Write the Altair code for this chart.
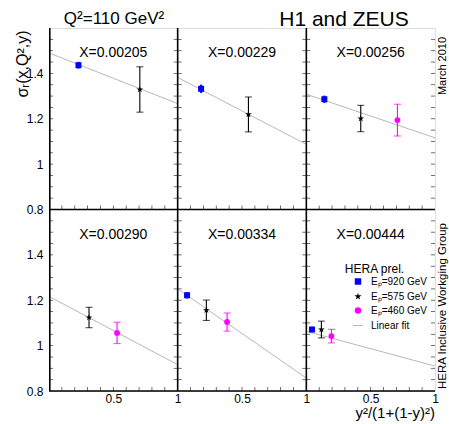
import altair as alt
import pandas as pd

# ---------------- data ----------------
panel_labels = ["X=0.00205", "X=0.00229", "X=0.00256",
                "X=0.00290", "X=0.00334", "X=0.00444"]

ep920_panel = [0, 1, 2, 4, 5]
ep920_x = [0.229, 0.182, 0.140, 0.073, 0.044]
ep920_y = [1.436, 1.332, 1.286, 1.222, 1.071]
ep920_err = [0.015, 0.018, 0.016, 0.014, 0.012]

ep575_panel = [0, 1, 2, 3, 4, 5]
ep575_x = [0.706, 0.550, 0.423, 0.311, 0.223, 0.117]
ep575_y = [1.329, 1.219, 1.201, 1.124, 1.156, 1.071]
ep575_err = [0.100, 0.077, 0.058, 0.045, 0.045, 0.037]

ep460_panel = [2, 3, 4, 5]
ep460_x = [0.708, 0.529, 0.384, 0.195]
ep460_y = [1.194, 1.056, 1.104, 1.042]
ep460_err = [0.070, 0.047, 0.040, 0.030]

fit_x = [0.0, 1.0]
fit_y_at0 = [1.490, 1.382, 1.308, 1.217, 1.250, 1.063]
fit_y_at1 = [1.267, 1.087, 1.116, 0.916, 0.857, 0.910]

x_ticks = [0.1, 0.2, 0.3, 0.4, 0.5, 0.6, 0.7, 0.8, 0.9]
y_ticks = [0.85, 0.9, 0.95, 1.0, 1.05, 1.1, 1.15, 1.2, 1.25, 1.3,
           1.35, 1.4, 1.45, 1.5, 1.55]
x_label_values = [0.5, 1.0, 1.5, 2.0, 2.5, 3.0]        # panel-column offset + 0.5 / 1
y_label_values = [0.0, 0.2, 0.4, 0.6, 0.8, 1.0, 1.2, 1.4]  # row offset + 0.8..1.4

legend_labels = ["E\u209a=920 GeV", "E\u209a=575 GeV", "E\u209a=460 GeV", "Linear fit"]

notes = {
    "q2": "Q\u00b2=110 GeV\u00b2",
    "ytitle": "\u03c3\u1d63(x,Q\u00b2,y)",
    "h1": "H1 and ZEUS",
    "march": "March 2010",
    "xtitle": "y\u00b2/(1+(1-y)\u00b2)",
    "group": "HERA Inclusive Workging Group",
    "prel": "HERA prel.",
}

STAR = ("M0,-1L0.2245,-0.309L0.951,-0.309L0.3633,0.118L0.5878,0.809L0,0.382"
        "L-0.5878,0.809L-0.3633,0.118L-0.951,-0.309L-0.2245,-0.309Z")

# ---------------- one long table ----------------
rows = []
for name, pl, xs_, ys_, es_ in [("920", ep920_panel, ep920_x, ep920_y, ep920_err),
                                ("575", ep575_panel, ep575_x, ep575_y, ep575_err),
                                ("460", ep460_panel, ep460_x, ep460_y, ep460_err)]:
    for p, x, y, e in zip(pl, xs_, ys_, es_):
        rows.append(dict(kind="pt", panel=p, series=name, x=x, y=y, lo=y - e, hi=y + e))
for p in range(6):
    rows.append(dict(kind="fit", panel=p, x=fit_x[0], y=fit_y_at0[p]))
    rows.append(dict(kind="fit", panel=p, x=fit_x[1], y=fit_y_at1[p]))
    rows.append(dict(kind="label", panel=p, x=0.5, y=1.6, text=panel_labels[p]))
    for t in x_ticks:
        rows.append(dict(kind="xtick", panel=p, x=t, y=0.8))
    for t in y_ticks:
        rows.append(dict(kind="ytick", panel=p, x=0.0, y=t))
        rows.append(dict(kind="ytick", panel=p, x=1.0, y=t))
for p in [1, 2]:
    rows.append(dict(kind="sep", panel=p, x=0.0, y=0.8))
for p in [3, 0]:
    rows.append(dict(kind="base", panel=p, x=0.0, y=0.8))
for k, txt in notes.items():
    rows.append(dict(kind=k, panel=5, text=txt))
for k, s in enumerate(["920", "575", "460", "fit"]):
    rows.append(dict(kind="leg", panel=5, series=s, text=legend_labels[k]))
df = pd.DataFrame(rows)
df["r"] = df["panel"] // 3
df["c"] = df["panel"] % 3

FONT = "Liberation Sans"
W, H = 386, 363

xs = alt.Scale(domain=[0, 3], nice=False, zero=False)
ys = alt.Scale(domain=[0, 1.6], nice=False, zero=False)

xaxis = alt.Axis(values=x_label_values, ticks=False, domain=False, grid=False, labelFlush=False,
                 labelOverlap=False, labelExpr="datum.value % 1 == 0 ? '1' : '0.5'",
                 labelFont=FONT, labelFontSize=12, labelPadding=2, labelColor="black", title=None)
yaxis = alt.Axis(values=y_label_values, ticks=False, domain=False, grid=False, labelFlush=False,
                 labelOverlap=False,
                 labelExpr="format(datum.value < 0.79 ? datum.value + 0.8 : datum.value, '.1~f')",
                 labelFont=FONT, labelFontSize=12, labelPadding=6, labelColor="black", title=None)

base = alt.Chart(df).transform_calculate(
    X="datum.c + datum.x",
    Y="datum.y - 0.8 * datum.r",
    Ylo="datum.lo - 0.8 * datum.r",
    Yhi="datum.hi - 0.8 * datum.r",
)
X = alt.X("X:Q", scale=xs, axis=xaxis)
Y = alt.Y("Y:Q", scale=ys, axis=yaxis)


def kind(k):
    return base.transform_filter(f"datum.kind == '{k}'")


def note(k, size, x, y, align="center", baseline="alphabetic", angle=0):
    return kind(k).mark_text(font=FONT, fontSize=size, align=align, baseline=baseline,
                             angle=angle, color="black").encode(
        x=alt.value(x), y=alt.value(y), text="text:N")


layers = []
# inside ticks
layers.append(kind("xtick").mark_tick(orient="vertical", size=4, thickness=0.8, yOffset=-2,
                                      color="black").encode(x=X, y=Y))
layers.append(kind("ytick").transform_filter("datum.x == 0").mark_tick(
    orient="horizontal", size=4, thickness=0.8, xOffset=2, color="black").encode(x=X, y=Y))
layers.append(kind("ytick").transform_filter("datum.x == 1").mark_tick(
    orient="horizontal", size=4, thickness=0.8, xOffset=-2, color="black").encode(x=X, y=Y))
# fit lines
layers.append(kind("fit").mark_line(color="#b8b8b8", strokeWidth=1).encode(
    x=X, y=Y, detail="panel:N"))
# error bars
layers.append(kind("pt").transform_filter("datum.series == '920'").mark_rule(
    strokeWidth=2.2, color="#0000ff").encode(
    x=X, y=alt.Y("Ylo:Q", scale=ys, axis=yaxis), y2="Yhi:Q"))
for s, col in [("575", "#000000"), ("460", "#ff00ff")]:
    sel = kind("pt").transform_filter(f"datum.series == '{s}'")
    layers.append(sel.mark_rule(strokeWidth=1.1, color=col).encode(
        x=X, y=alt.Y("Ylo:Q", scale=ys, axis=yaxis), y2="Yhi:Q"))
    layers.append(sel.mark_tick(orient="horizontal", size=7, thickness=1.1, color=col).encode(
        x=X, y=alt.Y("Ylo:Q", scale=ys, axis=yaxis)))
    layers.append(sel.mark_tick(orient="horizontal", size=7, thickness=1.1, color=col).encode(
        x=X, y=alt.Y("Yhi:Q", scale=ys, axis=yaxis)))
# points
for s, col, shp, sz in [("920", "#0000ff", "square", 36), ("575", "#000000", STAR, 50),
                        ("460", "#ff00ff", "circle", 34)]:
    layers.append(kind("pt").transform_filter(f"datum.series == '{s}'").mark_point(
        filled=True, opacity=1, shape=shp, size=sz, color=col).encode(x=X, y=Y))
# black separators (left edges of panels, bottom edges of rows)
layers.append(kind("sep").mark_rule(color="black", strokeWidth=1.6).encode(
    x=X, y=alt.value(0), y2=alt.value(H)))
layers.append(kind("base").mark_rule(color="black", strokeWidth=1.6).encode(
    y=Y, x=alt.value(0), x2=alt.value(W)))
layers.append(base.transform_filter("datum.kind == 'sep' && datum.c == 1").mark_rule(
    color="black", strokeWidth=1.6).encode(x=alt.value(0.8), y=alt.value(0), y2=alt.value(H)))
# panel labels
layers.append(kind("label").mark_text(font=FONT, fontSize=14, align="center", baseline="alphabetic",
                                      color="black", dy=29).encode(x=X, y=Y, text="text:N"))
# texts around the panels
layers.append(note("q2", 17, 65, -4.5))
layers.append(note("ytitle", 16, -26, 36, baseline="middle", angle=270))
layers.append(note("h1", 21, 295, -2))
layers.append(note("march", 11, 393.5, 38, baseline="middle", angle=270))
layers.append(note("xtitle", 15, W, 390, align="right"))
layers.append(note("group", 11.5, 393.5, 278, baseline="middle", angle=270))
layers.append(note("prel", 12, 325.5, 241, baseline="middle"))
# legend
ly = [253.5, 268.5, 282.5, 297.5]
for k, (s, col, shp, sz) in enumerate([("920", "#0000ff", "square", 42), ("575", "#000000", STAR, 56),
                                       ("460", "#ff00ff", "circle", 42)]):
    layers.append(kind("leg").transform_filter(f"datum.series == '{s}'").mark_point(
        filled=True, opacity=1, shape=shp, color=col, size=sz).encode(
        x=alt.value(309), y=alt.value(ly[k])))
layers.append(kind("leg").transform_filter("datum.series == 'fit'").mark_rule(
    color="#b8b8b8", strokeWidth=1).encode(x=alt.value(304), x2=alt.value(314), y=alt.value(ly[3])))
for k, s in enumerate(["920", "575", "460", "fit"]):
    layers.append(kind("leg").transform_filter(f"datum.series == '{s}'").mark_text(
        font=FONT, fontSize=10, align="left", baseline="middle", color="black").encode(
        x=alt.value(322), y=alt.value(ly[k]), text="text:N"))

chart = alt.layer(*layers).properties(
    width=W, height=H,
    autosize=alt.AutoSizeParams(type="none"),
    padding={"left": 49, "top": 28, "right": 14, "bottom": 33},
).configure_view(stroke="#8c8c8c", strokeWidth=1).configure(background="white")

chart.save("out.html", embed_options={"renderer": "svg", "actions": False})
